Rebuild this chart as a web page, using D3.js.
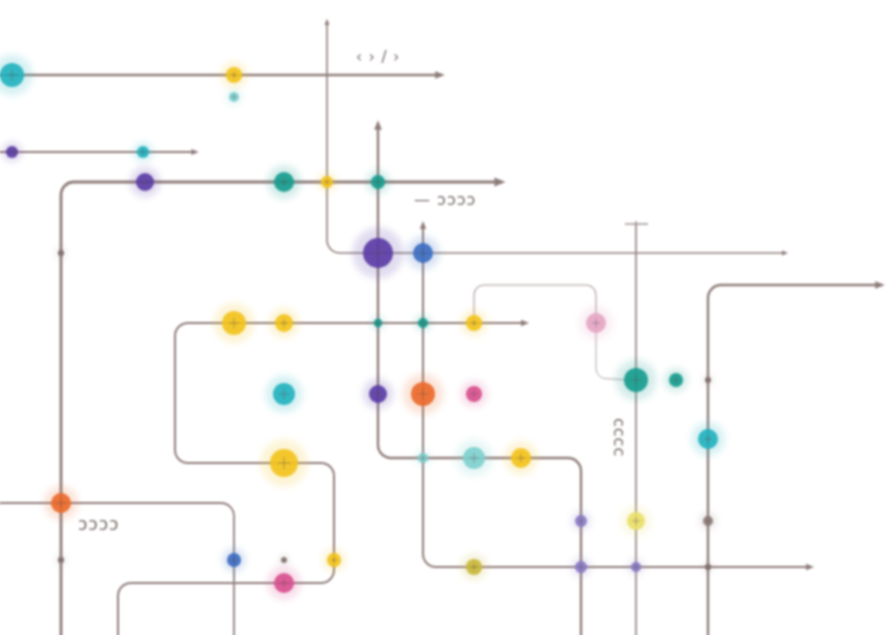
<!DOCTYPE html>
<html>
<head>
<meta charset="utf-8">
<script src="https://cdn.jsdelivr.net/npm/d3@7"></script>
<style>
  html, body { margin: 0; padding: 0; background: #fff; }
  svg { display: block; }
</style>
</head>
<body>
<div id="plot"></div>
<script>
var width = 888, height = 635;

// palette used by the stations
var colors = {
  teal: "#22b2bf", dteal: "#159c8e", yellow: "#f2c31c", purple: "#5b3ea6",
  orange: "#ea6a2a", pink: "#d8508f", blue: "#3c6ec2", grey: "#8e7d79",
  lyellow: "#e9df6a", lpink: "#e6a6c4", lteal: "#7fd0cf", lpurple: "#8b7cc6",
  olive: "#c9b83a"
};

// route polylines: [x, y] in plan units, plus stroke weight and arrow flags
var routes = [
  {pts: [[0, 75], [440, 75]], w: 2.4, end: true},
  {pts: [[0, 152], [195, 152]], w: 1.8, end: true},
  {pts: [[61, 640], [61, 182], [500, 182]], w: 2.8, end: true},
  {pts: [[327, 22], [327, 253], [785, 253]], w: 1.6, end: true, start: true},
  {pts: [[378, 125], [378, 458], [581, 458], [581, 640]], w: 2.4, start: true},
  {pts: [[423, 225], [423, 567], [810, 567]], w: 2.0, end: true, start: true},
  {pts: [[525, 323], [175, 323], [175, 463], [334, 463], [334, 583], [118, 583], [118, 640]], w: 2.0, start: true},
  {pts: [[0, 503], [234, 503], [234, 640]], w: 1.8},
  {pts: [[636, 222], [636, 640]], w: 1.6},
  {pts: [[708, 640], [708, 285], [880, 285]], w: 2.4, end: true}
];

// thin connectors
var connectors = [
  {pts: [[474, 318], [474, 285], [596, 285], [596, 318]], w: 1.1},
  {pts: [[596, 330], [596, 378], [630, 380]], w: 0.9},
  {pts: [[625, 224], [648, 224]], w: 1.6}
];

// faint background strokes
var ghosts = [
  [[150, 97], [270, 97]],
  [[745, 380], [840, 380]],
  [[760, 439], [790, 439]],
  [[40, 560], [190, 560]],
  [[0, 513], [180, 513]],
  [[240, 303], [330, 303]],
  [[720, 302], [845, 302]]
];

// stations: x, y, radius, colour key
var stations = [
  [12, 75, 12, "teal"], [234, 75, 8, "yellow"], [234, 97, 5, "lteal"],
  [12, 152, 6, "purple"], [143, 152, 6, "teal"],
  [145, 182, 9, "purple"], [284, 182, 10, "dteal"], [327, 182, 6, "yellow"], [378, 182, 7, "dteal"],
  [378, 253, 15, "purple"], [423, 253, 10, "blue"],
  [234, 323, 12, "yellow"], [284, 323, 9, "yellow"], [378, 323, 4, "dteal"], [423, 323, 5, "dteal"],
  [474, 323, 8, "yellow"], [596, 323, 10, "lpink"],
  [284, 394, 11, "teal"], [378, 394, 9, "purple"], [423, 394, 12, "orange"], [474, 394, 8, "pink"],
  [636, 380, 12, "dteal"], [676, 380, 7, "dteal"], [708, 380, 3, "grey"], [708, 439, 10, "teal"],
  [284, 463, 14, "yellow"], [423, 458, 5, "lteal"], [474, 458, 11, "lteal"], [521, 458, 10, "yellow"],
  [61, 503, 10, "orange"], [61, 253, 3, "grey"], [61, 560, 3, "grey"],
  [581, 521, 6, "lpurple"], [636, 521, 9, "lyellow"], [708, 521, 5, "grey"],
  [234, 560, 7, "blue"], [284, 560, 3, "grey"], [334, 560, 7, "yellow"], [284, 583, 10, "pink"],
  [474, 567, 8, "olive"], [581, 567, 6, "lpurple"], [636, 567, 5, "lpurple"], [708, 567, 3, "grey"]
];

// little glyph labels
var labels = [
  {x: 356, y: 62, t: "‹ › / ›", rot: 0, s: 15},
  {x: 414, y: 205, t: "— ɔɔɔɔ", rot: 0, s: 16},
  {x: 78, y: 530, t: "ɔɔɔɔ", rot: 0, s: 17},
  {x: 614, y: 418, t: "cccc", rot: 90, s: 16}
];

var svg = d3.select("#plot")
  .append("svg")
  .attr("width", width)
  .attr("height", height);

var x = d3.scaleLinear().domain([0, 888]).range([0, width]);
var y = d3.scaleLinear().domain([0, 635]).range([0, height]);

var defs = svg.append("defs");
defs.append("filter").attr("id", "soft")
  .attr("x", "-50%").attr("y", "-50%").attr("width", "200%").attr("height", "200%")
  .append("feGaussianBlur").attr("stdDeviation", 0.9);
defs.append("filter").attr("id", "haze")
  .attr("x", "-100%").attr("y", "-100%").attr("width", "300%").attr("height", "300%")
  .append("feGaussianBlur").attr("stdDeviation", 3.5);

defs.append("marker")
  .attr("id", "arrow")
  .attr("viewBox", "0 0 10 10")
  .attr("refX", 5).attr("refY", 5)
  .attr("markerWidth", 4).attr("markerHeight", 4)
  .attr("markerUnits", "strokeWidth")
  .attr("orient", "auto-start-reverse")
  .append("path")
  .attr("d", "M0,1 L10,5 L0,9 Z")
  .attr("fill", colors.grey);

function routePath(pts, r) {
  var p = d3.path();
  p.moveTo(x(pts[0][0]), y(pts[0][1]));
  for (var i = 1; i < pts.length - 1; i++) {
    p.arcTo(x(pts[i][0]), y(pts[i][1]), x(pts[i + 1][0]), y(pts[i + 1][1]), r);
  }
  var last = pts[pts.length - 1];
  p.lineTo(x(last[0]), y(last[1]));
  return p.toString();
}

// ghosts
svg.append("g")
  .selectAll("path")
  .data(ghosts)
  .enter()
  .append("path")
  .attr("d", function(d) { return routePath(d, 12); })
  .attr("fill", "none")
  .attr("stroke", "#b9c9c9")
  .attr("stroke-width", 3)
  .attr("opacity", 0.35)
  .attr("filter", "url(#haze)");

var lines = svg.append("g").attr("filter", "url(#soft)");

lines.selectAll("path.route")
  .data(routes)
  .enter()
  .append("path")
  .attr("class", "route")
  .attr("d", function(d) { return routePath(d.pts, 13); })
  .attr("fill", "none")
  .attr("stroke", colors.grey)
  .attr("stroke-width", function(d) { return d.w; })
  .attr("stroke-linecap", "round")
  .attr("marker-end", function(d) { return d.end ? "url(#arrow)" : null; })
  .attr("marker-start", function(d) { return d.start ? "url(#arrow)" : null; });

lines.selectAll("path.conn")
  .data(connectors)
  .enter()
  .append("path")
  .attr("class", "conn")
  .attr("d", function(d) { return routePath(d.pts, 10); })
  .attr("fill", "none")
  .attr("stroke", "#a89a98")
  .attr("stroke-width", function(d) { return d.w; });

// station halos
svg.append("g")
  .selectAll("circle")
  .data(stations)
  .enter()
  .append("circle")
  .attr("cx", function(d) { return x(d[0]); })
  .attr("cy", function(d) { return y(d[1]); })
  .attr("r", function(d) { return d[2] * 1.7; })
  .attr("fill", function(d) { return colors[d[3]]; })
  .attr("opacity", 0.18)
  .attr("filter", "url(#haze)");

var nodes = svg.append("g").attr("filter", "url(#soft)");

nodes.selectAll("circle")
  .data(stations)
  .enter()
  .append("circle")
  .attr("cx", function(d) { return x(d[0]); })
  .attr("cy", function(d) { return y(d[1]); })
  .attr("r", function(d) { return d[2]; })
  .attr("fill", function(d) { return colors[d[3]]; })
  .attr("opacity", 0.92);

// crosshair ticks through each station
nodes.selectAll("path.tick")
  .data(stations)
  .enter()
  .append("path")
  .attr("class", "tick")
  .attr("d", function(d) {
    var cx = x(d[0]), cy = y(d[1]), s = Math.max(3, d[2] * 0.45);
    return "M" + (cx - s) + "," + cy + "H" + (cx + s) + "M" + cx + "," + (cy - s) + "V" + (cy + s);
  })
  .attr("stroke", "#5e4f4c")
  .attr("stroke-width", 0.8)
  .attr("opacity", 0.55);

svg.append("g")
  .selectAll("text")
  .data(labels)
  .enter()
  .append("text")
  .attr("transform", function(d) { return "translate(" + x(d.x) + "," + y(d.y) + ") rotate(" + d.rot + ")"; })
  .attr("font-family", "DejaVu Sans, sans-serif")
  .attr("font-size", function(d) { return d.s; })
  .attr("letter-spacing", 1)
  .attr("fill", "#6f625f")
  .attr("filter", "url(#soft)")
  .text(function(d) { return d.t; });
</script>
</body>
</html>
